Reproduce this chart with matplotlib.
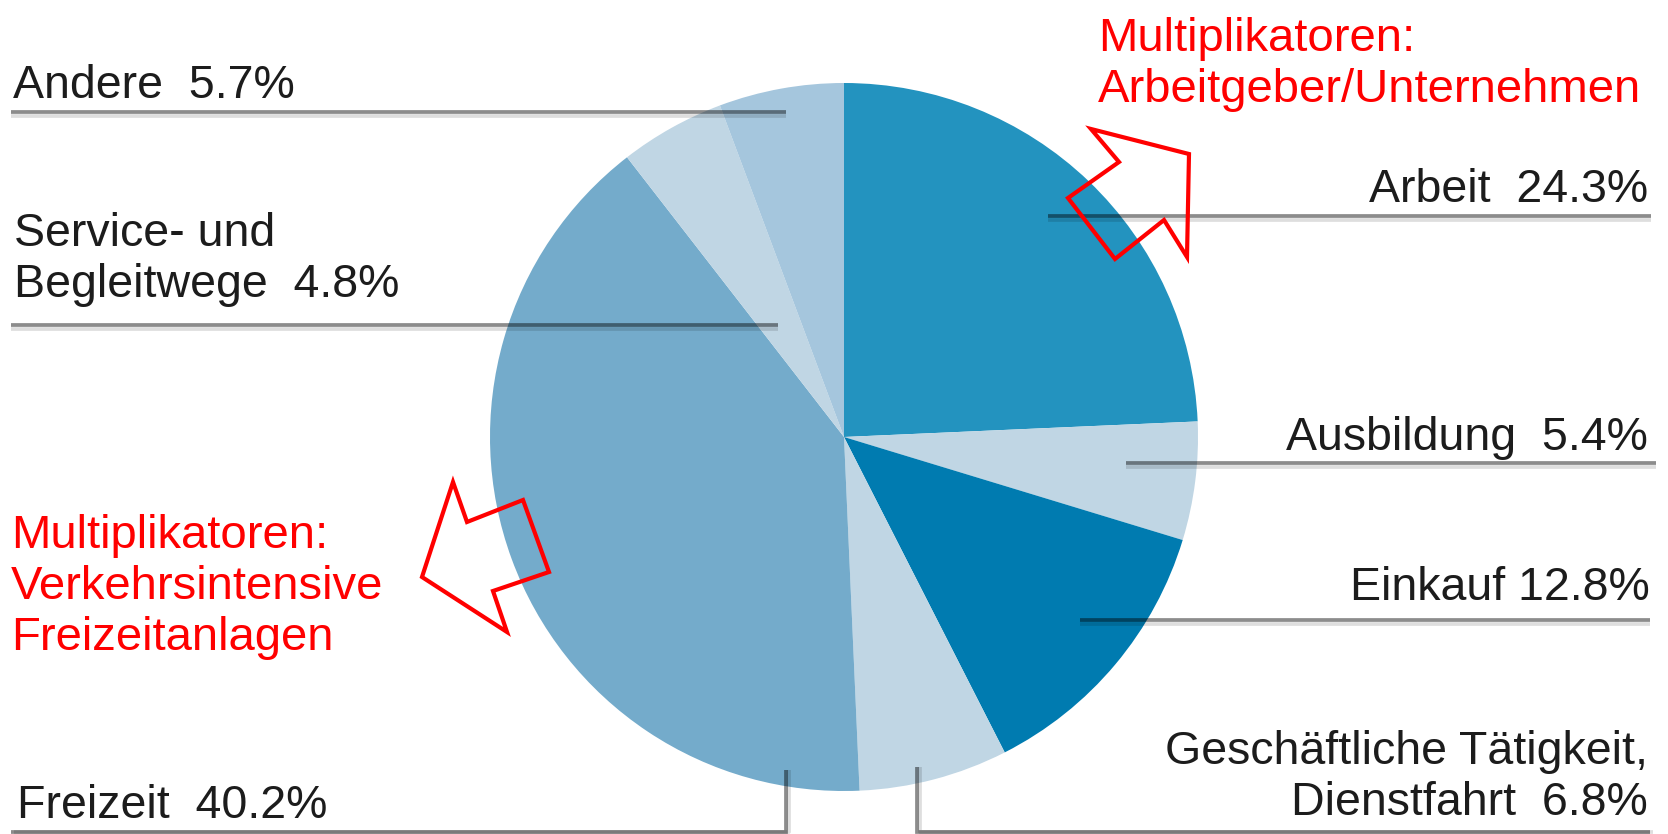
import matplotlib
matplotlib.use("Agg")
import matplotlib.pyplot as plt
from matplotlib.patches import Polygon

# trip purposes, clockwise from the top
labels = ["Arbeit  24.3%", "Ausbildung  5.4%", "Einkauf 12.8%",
          "Geschäftliche Tätigkeit,\nDienstfahrt  6.8%", "Freizeit  40.2%",
          "Service- und\nBegleitwege  4.8%", "Andere  5.7%"]
shares = [24.3, 5.4, 12.8, 6.8, 40.2, 4.8, 5.7]
colors = ["#2393bf", "#c0d6e4", "#007bb0", "#c0d6e4", "#74abcb", "#c0d6e4", "#a5c6dd"]

note_top = "Multiplikatoren:\nArbeitgeber/Unternehmen"
note_left = "Multiplikatoren:\nVerkehrsintensive\nFreizeitanlagen"

W, H = 1668, 834
fig = plt.figure(figsize=(W / 100, H / 100), dpi=100)
ax = fig.add_axes([0, 0, 1, 1])

# work in pixel coords, y pointing down -> startangle -90 + counterclock = clockwise from top
ax.pie(shares, colors=colors, startangle=-90, counterclock=True,
       radius=354, center=(844, 437), wedgeprops=dict(linewidth=0))
ax.set_xlim(0, W)
ax.set_ylim(H, 0)
ax.set_aspect("auto")
ax.axis("off")

black = "#1c1c1c"
fs = 33.5
font = "Liberation Sans"


def leader(xs, ys, shadow=(0, 3.5)):
    ax.plot([x + shadow[0] for x in xs], [y + shadow[1] for y in ys],
            color="black", alpha=0.13, lw=2.7, solid_capstyle="butt", zorder=3)
    ax.plot(xs, ys, color="black", alpha=0.45, lw=2.7,
            solid_capstyle="butt", solid_joinstyle="miter", zorder=4)


# right side labels
ax.text(1648, 202, labels[0], ha="right", va="baseline", fontsize=fs, color=black, family=font)
leader([1048, 1651], [216, 216])
ax.text(1648, 450, labels[1], ha="right", va="baseline", fontsize=fs, color=black, family=font)
leader([1126, 1656], [463, 463])
ax.text(1650, 600, labels[2], ha="right", va="baseline", fontsize=fs, color=black, family=font)
leader([1080, 1650], [620, 620])
ax.text(1648, 815, labels[3], ha="right", va="baseline", fontsize=fs, color=black,
        family=font, linespacing=1.22)
leader([917, 917, 1650], [767, 832, 832], shadow=(3.5, 0))

# left side labels
ax.text(17, 818, labels[4], ha="left", va="baseline", fontsize=fs, color=black, family=font)
leader([786, 786, 11], [770, 832, 832], shadow=(3.5, 0))
ax.text(14, 297, labels[5], ha="left", va="baseline", fontsize=fs, color=black,
        family=font, linespacing=1.22)
leader([11, 778], [325, 325])
ax.text(13, 98, labels[6], ha="left", va="baseline", fontsize=fs, color=black, family=font)
leader([11, 786], [112, 112])

# red notes and hollow arrows
ax.text(1098, 102, note_top, ha="left", va="baseline", fontsize=34, color="#ff0000",
        family=font, linespacing=1.2)
ax.text(11, 650, note_left, ha="left", va="baseline", fontsize=34, color="#ff0000",
        family=font, linespacing=1.2)

arrow_top = [(1091, 129), (1189, 154), (1187, 257), (1164, 220),
             (1115, 259), (1068, 198), (1119, 162)]
arrow_left = [(453, 482), (467, 522), (523, 500), (549, 572),
              (493, 591), (507, 632), (422, 577)]
for pts in (arrow_top, arrow_left):
    ax.add_patch(Polygon(pts, closed=True, fill=False, edgecolor="#ff0000",
                         lw=3.0, joinstyle="miter", zorder=5))

fig.savefig("out.png", dpi=100)
